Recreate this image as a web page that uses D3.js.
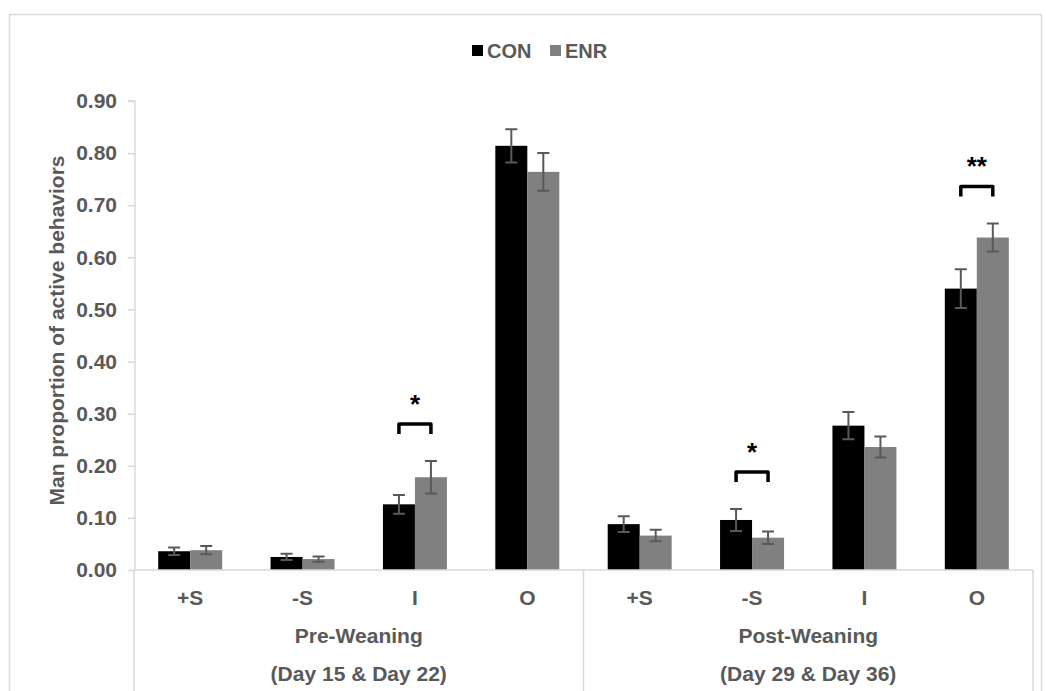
<!DOCTYPE html>
<html>
<head>
<meta charset="utf-8">
<script src="https://cdn.jsdelivr.net/npm/d3@7"></script>
<style>
  html, body { margin: 0; padding: 0; background: #fff; }
  svg text { font-family: "Liberation Sans", Arial, sans-serif; font-weight: bold; }
</style>
</head>
<body>
<svg id="chart" width="1046" height="691"></svg>
<script>
// Behaviour categories, grouped by developmental period
const behaviours = ["+S", "-S", "I", "O", "+S", "-S", "I", "O"];
const periods = ["Pre-Weaning", "Post-Weaning"];
const periodDays = ["(Day 15 & Day 22)", "(Day 29 & Day 36)"];
const seriesNames = ["CON", "ENR"];

// Mean proportions and standard errors per category
const conMeans = [0.036, 0.025, 0.126, 0.814, 0.088, 0.096, 0.277, 0.540];
const enrMeans = [0.038, 0.021, 0.178, 0.764, 0.066, 0.062, 0.236, 0.638];
const conErr   = [0.007, 0.006, 0.018, 0.032, 0.015, 0.021, 0.026, 0.037];
const enrErr   = [0.008, 0.005, 0.031, 0.036, 0.011, 0.012, 0.020, 0.027];

// Significant CON vs ENR differences (category index, marker)
const sigIndex = [2, 5, 7];
const sigLabel = ["*", "*", "**"];

const yTicks = [0, 0.1, 0.2, 0.3, 0.4, 0.5, 0.6, 0.7, 0.8, 0.9];

const colors = { CON: "#000000", ENR: "#808080" };
const textColor = "#595959";
const lineColor = "#d9d9d9";
const fontSize = "21px";

const svg = d3.select("#chart");
const plot = { left: 134, right: 1033, top: 101, bottom: 570 };

// Outer chart frame
svg.append("rect")
  .attr("x", 9.5).attr("y", 14.5)
  .attr("width", 1032).attr("height", 700)
  .attr("fill", "none").attr("stroke", lineColor).attr("stroke-width", 1.5);

const keys = behaviours.map((b, i) => i);
const x0 = d3.scaleBand().domain(keys).range([plot.left, plot.right]).paddingInner(0).paddingOuter(0);
const x1 = d3.scaleBand().domain(seriesNames).range([0, x0.bandwidth()]).paddingInner(0).paddingOuter(0.756);
const y = d3.scaleLinear().domain([0, 0.9]).range([plot.bottom, plot.top]);

const rows = keys.map(i => ({
  i,
  vals: [
    { s: "CON", v: conMeans[i], e: conErr[i] },
    { s: "ENR", v: enrMeans[i], e: enrErr[i] }
  ]
}));

// Y axis
const yAxis = d3.axisLeft(y).tickValues(yTicks).tickFormat(d3.format(".2f")).tickSize(7).tickPadding(11);
const yg = svg.append("g").attr("transform", `translate(${plot.left + 1},0)`).call(yAxis);
yg.select(".domain").attr("stroke", lineColor).attr("stroke-width", 1.5).attr("d", `M-7,${plot.top}H0V${plot.bottom}`);
yg.selectAll(".tick line").attr("stroke", lineColor).attr("stroke-width", 1.5);
yg.selectAll(".tick text").attr("fill", textColor).style("font-size", fontSize)
  .style("font-family", '"Liberation Sans", Arial, sans-serif').style("font-weight", "bold");

// Y axis title
svg.append("text")
  .attr("transform", `translate(56,${(plot.top + plot.bottom) / 2 - 5}) rotate(-90)`)
  .attr("text-anchor", "middle").attr("dominant-baseline", "central")
  .attr("fill", textColor).style("font-size", fontSize)
  .text("Man proportion of active behaviors");

// Bars
const groups = svg.append("g").selectAll("g").data(rows).join("g")
  .attr("transform", d => `translate(${x0(d.i)},0)`);

groups.selectAll("rect").data(d => d.vals).join("rect")
  .attr("x", d => x1(d.s)).attr("width", x1.bandwidth())
  .attr("y", d => y(d.v)).attr("height", d => y(0) - y(d.v))
  .attr("fill", d => colors[d.s]);

// Error bars
const cap = 6;
groups.selectAll("path.err").data(d => d.vals).join("path")
  .attr("class", "err")
  .attr("d", d => {
    const cx = x1(d.s) + x1.bandwidth() / 2;
    const t = y(d.v + d.e), b = y(d.v - d.e);
    return `M${cx - cap},${t}H${cx + cap}M${cx},${t}V${b}M${cx - cap},${b}H${cx + cap}`;
  })
  .attr("fill", "none").attr("stroke", "#595959").attr("stroke-width", 2);

// Category axis baseline and group separators
svg.append("path")
  .attr("d", `M${plot.left},${plot.bottom}H${plot.right}`)
  .attr("stroke", lineColor).attr("stroke-width", 1.5).attr("fill", "none");
[plot.left, x0(4), plot.right].forEach(px => {
  svg.append("path")
    .attr("d", `M${px},${plot.bottom}V691`)
    .attr("stroke", lineColor).attr("stroke-width", 1.5).attr("fill", "none");
});

// Behaviour labels
svg.append("g").selectAll("text").data(keys).join("text")
  .attr("x", i => x0(i) + x0.bandwidth() / 2)
  .attr("y", 597)
  .attr("text-anchor", "middle").attr("dominant-baseline", "central")
  .attr("fill", textColor).style("font-size", fontSize)
  .text(i => behaviours[i]);

// Period labels
periods.forEach((p, g) => {
  const cx = (x0(g * 4) + x0(g * 4 + 3) + x0.bandwidth()) / 2;
  svg.append("text").attr("x", cx).attr("y", 635)
    .attr("text-anchor", "middle").attr("dominant-baseline", "central")
    .attr("fill", textColor).style("font-size", fontSize).text(p);
  svg.append("text").attr("x", cx).attr("y", 673)
    .attr("text-anchor", "middle").attr("dominant-baseline", "central")
    .attr("fill", textColor).style("font-size", fontSize).text(periodDays[g]);
});

// Significance brackets
sigIndex.forEach((i, k) => {
  const xa = x0(i) + x1("CON") + x1.bandwidth() / 2;
  const xb = x0(i) + x1("ENR") + x1.bandwidth() / 2;
  const top = Math.min(y(conMeans[i] + conErr[i]), y(enrMeans[i] + enrErr[i])) - 37;
  svg.append("path")
    .attr("d", `M${xa},${top + 10}V${top}H${xb}V${top + 10}`)
    .attr("fill", "none").attr("stroke", "#000").attr("stroke-width", 3.5)
    .attr("stroke-linejoin", "round");
  svg.append("text")
    .attr("x", (xa + xb) / 2).attr("y", top - 20)
    .attr("text-anchor", "middle").attr("dominant-baseline", "central")
    .attr("fill", "#000").style("font-size", "26px").style("font-weight", "bold")
    .text(sigLabel[k]);
});

// Legend
const legend = svg.append("g");
const legendItems = [
  { s: "CON", x: 472 },
  { s: "ENR", x: 550 }
];
legendItems.forEach(d => {
  legend.append("rect").attr("x", d.x).attr("y", 45).attr("width", 11).attr("height", 11)
    .attr("fill", colors[d.s]);
  legend.append("text").attr("x", d.x + 15).attr("y", 51)
    .attr("dominant-baseline", "central")
    .attr("fill", textColor).style("font-size", "20px").text(d.s);
});
</script>
</body>
</html>
